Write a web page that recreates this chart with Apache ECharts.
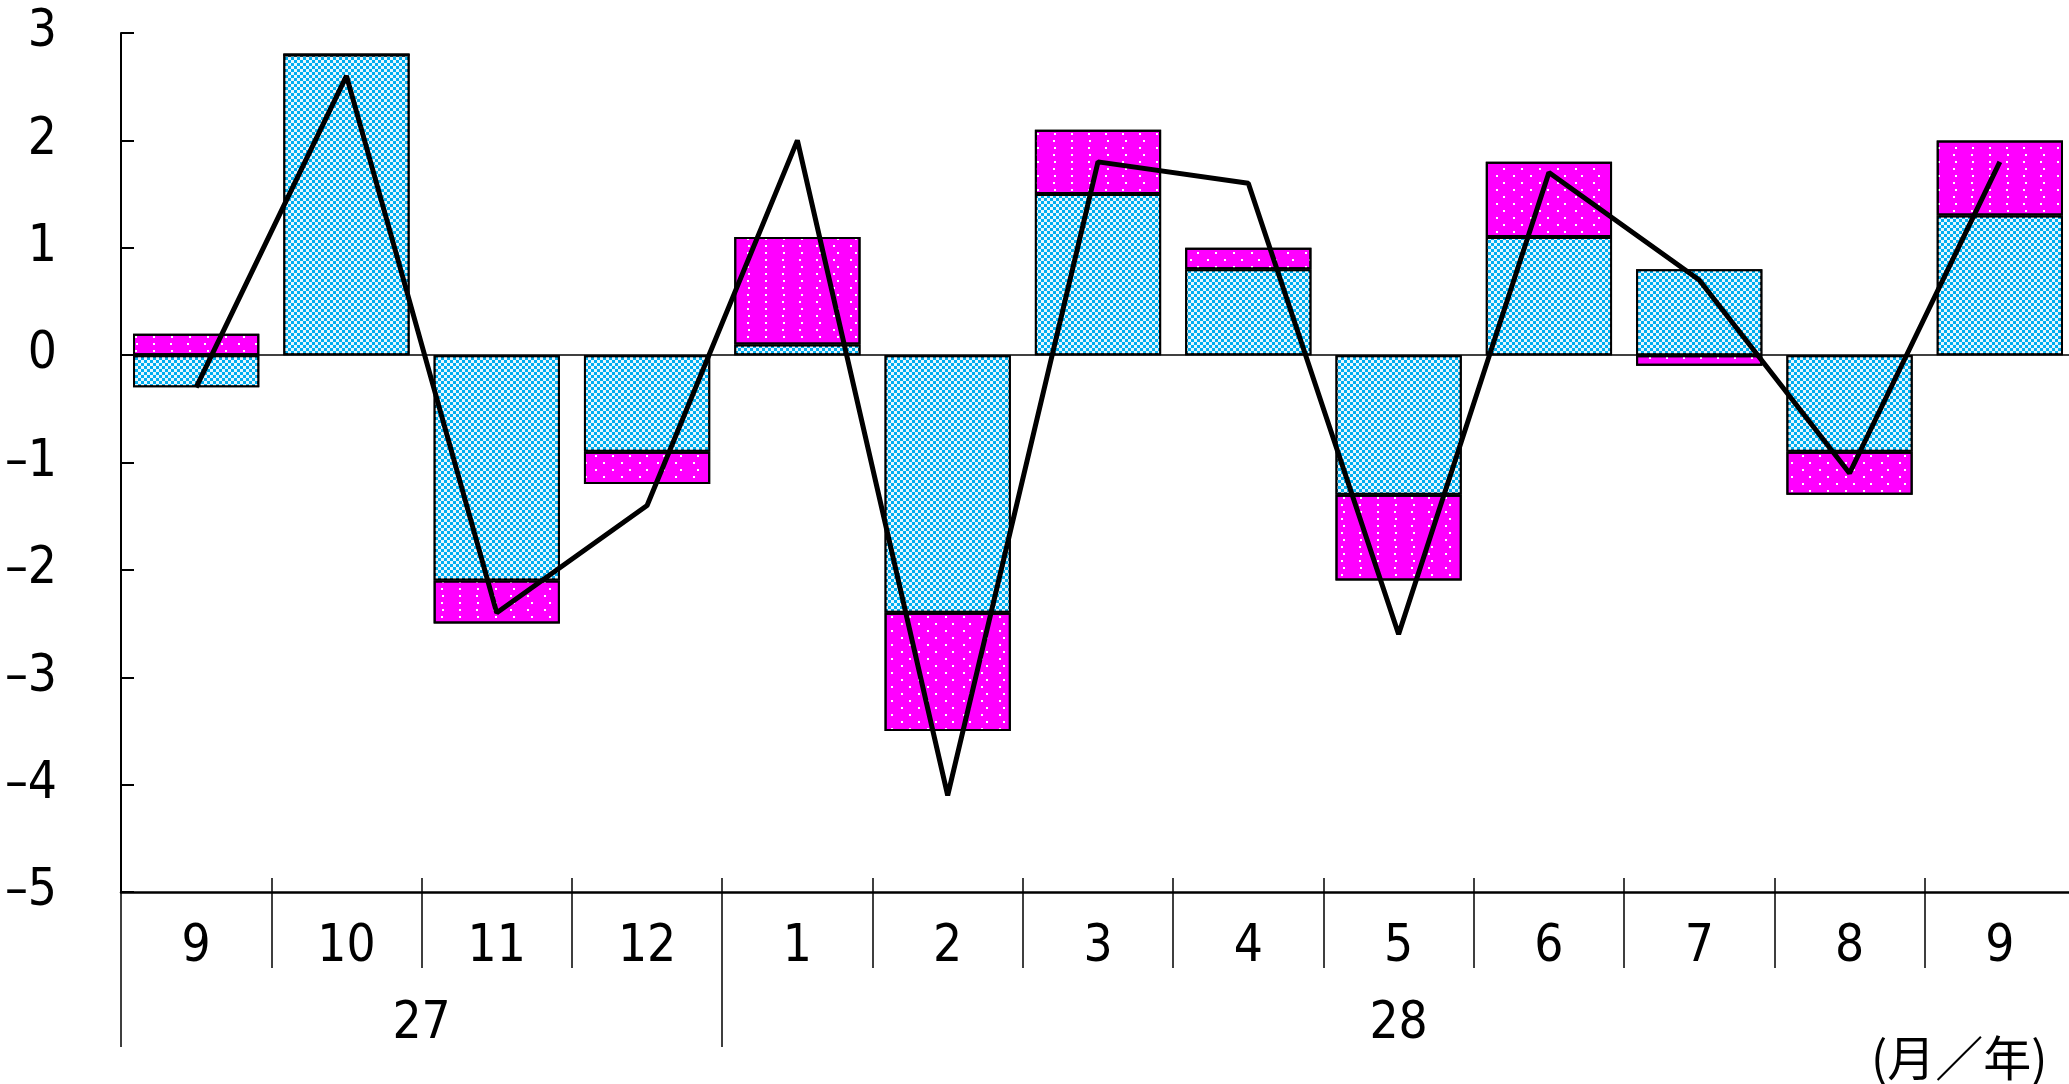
<!DOCTYPE html>
<html>
<head>
<meta charset="utf-8">
<script src="https://cdn.jsdelivr.net/npm/echarts@6/dist/echarts.min.js"></script>
<style>
html, body { margin: 0; padding: 0; background: #fff; }
#chart { width: 2069px; height: 1084px; }
</style>
</head>
<body>
<div id="chart"></div>
<script>
// months (Sep H27 .. Sep H28)
var months = ['9', '10', '11', '12', '1', '2', '3', '4', '5', '6', '7', '8', '9'];
var yearLabels = ['27', '28'];
var yearStart = [0, 4];     // category index where each year starts
var yearMid = [2, 8.5];     // centre of each year span
var blueVals = [-0.3, 2.8, -2.1, -0.9, 0.1, -2.4, 1.5, 0.8, -1.3, 1.1, 0.8, -0.9, 1.3];
var pinkVals = [0.2, 0, -0.4, -0.3, 1.0, -1.1, 0.6, 0.2, -0.8, 0.7, -0.1, -0.4, 0.7];
var lineVals = [-0.3, 2.6, -2.4, -1.4, 2.0, -4.1, 1.8, 1.6, -2.6, 1.7, 0.7, -1.1, 1.8];

var numFont = "'Liberation Sans Narrow', 'DejaVu Sans Condensed', 'Liberation Sans', sans-serif";

var chart = echarts.init(document.getElementById('chart'));

var option = {
	animation: false,
	backgroundColor: '#fff',
	grid: {
		left: 121, right: -6, top: 33, bottom: 192,
		containLabel: false,
		outerBoundsMode: 'none'
	},
	xAxis: [ {
		type: 'category',
		data: months,
		position: 'bottom',
		axisLine: { show: true, onZero: false, lineStyle: { color: '#000', width: 2.5 } },
		axisTick: { show: true, length: 76, lineStyle: { color: '#000', width: 1.5 } },
		axisLabel: {
			color: '#000', fontSize: 51, fontFamily: numFont,
			margin: 30, lineHeight: 52
		}
	}, {
		type: 'category',
		data: months,
		position: 'bottom',
		axisLine: { show: false, onZero: false },
		axisTick: { show: true, inside: true, length: 14, lineStyle: { color: '#000', width: 1.5 } },
		axisLabel: { show: false }
	}, {
		type: 'value',
		min: 0,
		max: 13,
		position: 'bottom',
		offset: 76,
		axisLine: { show: false, onZero: false },
		splitLine: { show: false },
		axisTick: { show: true, customValues: yearStart, length: 79, lineStyle: { color: '#000', width: 1.5 } },
		axisLabel: {
			customValues: yearMid,
			color: '#000', fontSize: 51, fontFamily: numFont,
			margin: 31, lineHeight: 52,
			formatter: function (v) {
				return yearLabels[yearMid.indexOf(v)];
			}
		}
	} ],
	yAxis: {
		type: 'value',
		min: -5,
		max: 3,
		interval: 1,
		splitLine: { show: false },
		axisLine: { show: true, onZero: false, lineStyle: { color: '#000', width: 2 } },
		axisTick: { show: true, inside: true, length: 13, lineStyle: { color: '#000', width: 2 } },
		axisLabel: {
			color: '#000', fontSize: 51, fontFamily: numFont, margin: 64,
			formatter: function (v) {
				return v < 0 ? '\u2013' + Math.abs(v) : String(v);
			}
		}
	},
	series: [ {
		type: 'bar',
		stack: 'total',
		data: blueVals,
		barCategoryGap: '16%',
		itemStyle: {
			color: '#00AEEF',
			borderColor: '#000',
			borderWidth: 2,
			decal: {
				symbol: 'rect',
				symbolSize: 1,
				color: 'rgba(255,255,255,0.9)',
				dashArrayX: [[3, 3], [0, 3, 3, 0]],
				dashArrayY: [3, 0]
			}
		},
		markLine: {
			silent: true,
			symbol: 'none',
			label: { show: false },
			lineStyle: { color: '#000', width: 1.5, type: 'solid' },
			data: [ { yAxis: 0 } ]
		}
	}, {
		type: 'bar',
		stack: 'total',
		data: pinkVals,
		itemStyle: {
			color: '#FF00FF',
			borderColor: '#000',
			borderWidth: 2,
			decal: {
				symbol: 'rect',
				symbolSize: 1,
				color: '#ffffff',
				dashArrayX: [[2, 15], [0, 8.5, 2, 6.5]],
				dashArrayY: [2, 5]
			}
		}
	}, {
		type: 'line',
		data: lineVals,
		symbol: 'none',
		lineStyle: { color: '#000', width: 5 },
		z: 5
	} ],
	graphic: [ {
		type: 'text',
		x: 1871,
		y: 1034,
		style: {
			text: '(月／年)',
			font: "48px 'Noto Sans CJK JP', sans-serif",
			fill: '#000'
		}
	} ]
};

chart.setOption(option);
</script>
</body>
</html>
